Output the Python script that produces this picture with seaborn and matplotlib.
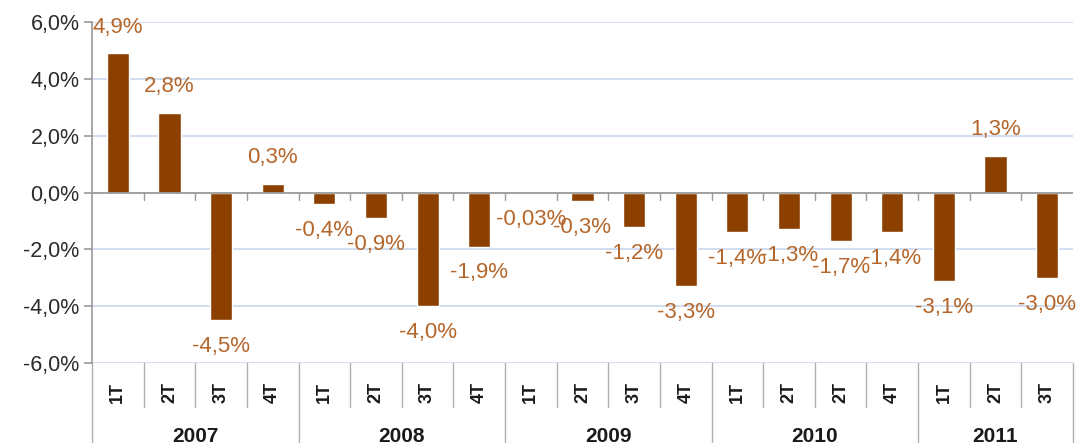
import pandas as pd
import seaborn as sns
import matplotlib.pyplot as plt
import matplotlib.transforms as mtransforms

# Data
years = ['2007', '2008', '2009', '2010', '2011']
quarters = [['1T', '2T', '3T', '4T'],
            ['1T', '2T', '3T', '4T'],
            ['1T', '2T', '3T', '4T'],
            ['1T', '2T', '2T', '4T'],
            ['1T', '2T', '3T']]
values = [4.9, 2.8, -4.5, 0.3,
          -0.4, -0.9, -4.0, -1.9,
          -0.03, -0.3, -1.2, -3.3,
          -1.4, -1.3, -1.7, -1.4,
          -3.1, 1.3, -3.0]
labels = ['4,9%', '2,8%', '-4,5%', '0,3%',
          '-0,4%', '-0,9%', '-4,0%', '-1,9%',
          '-0,03%', '-0,3%', '-1,2%', '-3,3%',
          '-1,4%', '-1,3%', '-1,7%', '-1,4%',
          '-3,1%', '1,3%', '-3,0%']

rows = []
for y, qs in zip(years, quarters):
    for j, q in enumerate(qs):
        rows.append({'year': y, 'quarter': q, 'key': f'{y}-{j}'})
df = pd.DataFrame(rows)
df['value'] = values

sns.set_style('white')
plt.rcParams['font.family'] = ['Liberation Sans', 'DejaVu Sans']

fig = plt.figure(figsize=(10.79, 4.43), dpi=100)
ax = fig.add_axes([0.0853, 0.1806, 0.9091, 0.7694])

bar_color = '#8c4000'
label_color = '#b5662a'
line_gray = '#9a9a9a'

sns.barplot(data=df, x='key', y='value', color=bar_color, saturation=1,
            width=0.43, ax=ax, zorder=3)

n = len(df)
ax.set_xlim(-0.5, n - 0.5)
ax.set_ylim(-6, 6)

# grid
for g in [-6, -4, -2, 2, 4, 6]:
    ax.axhline(g, color='#c9d8ec', lw=1.2, zorder=1)
ax.axhline(0, color=line_gray, lw=1.3, zorder=4)

for s in ['top', 'right', 'bottom']:
    ax.spines[s].set_visible(False)
ax.spines['left'].set_color(line_gray)
ax.spines['left'].set_linewidth(1.2)

ax.set_yticks([-6, -4, -2, 0, 2, 4, 6])
ax.set_yticklabels([f'{v:.1f}%'.replace('.', ',') for v in [-6, -4, -2, 0, 2, 4, 6]],
                   fontsize=15.5, color='#2b2b2b')
ax.tick_params(axis='y', length=6, color=line_gray, width=1.2, pad=3, left=True)
ax.set_xticks([])
ax.set_xlabel('')
ax.set_ylabel('')

# small ticks under zero line
for k in range(1, n):
    ax.plot([k - 0.5, k - 0.5], [0, -0.25], color=line_gray, lw=1, zorder=4)

# value labels
for i, (v, t) in enumerate(zip(values, labels)):
    off = 19 if v > 0 else -19
    ax.annotate(t, (i, v), xytext=(0, off), textcoords='offset points',
                ha='center', va='center', fontsize=16, color=label_color, zorder=5)

# category axis below
trans = mtransforms.blended_transform_factory(ax.transData, ax.transAxes)
bounds = [-0.5]
pos = -0.5
for qs in quarters:
    pos += len(qs)
    bounds.append(pos)

for k in range(n + 1):
    x = k - 0.5
    bottom = -0.35 if x in bounds else -0.13
    ax.plot([x, x], [0, bottom], color='#b0b0b0', lw=1, transform=trans, clip_on=False)

for i, q in enumerate(df['quarter']):
    ax.text(i, -0.085, q, rotation=90, ha='center', va='center', fontsize=13,
            fontweight='bold', color='#1a1a1a', transform=trans)

start = 0
for y, qs in zip(years, quarters):
    mid = start + (len(qs) - 1) / 2
    ax.text(mid, -0.215, y, ha='center', va='center', fontsize=15,
            fontweight='bold', color='#1a1a1a', transform=trans)
    start += len(qs)

fig.savefig('out.png', dpi=100)
